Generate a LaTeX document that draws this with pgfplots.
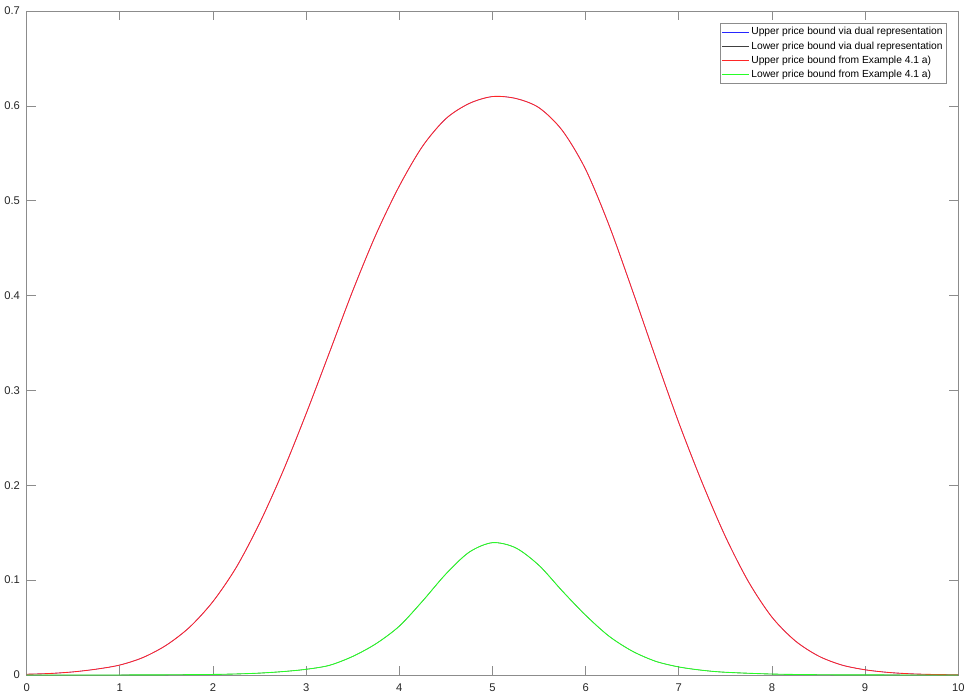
\documentclass[border=0pt]{standalone}
\usepackage{pgfplots}
\usepackage{pgfplotstable}
\pgfplotsset{compat=1.18}
\usepackage{fontspec}
\setmainfont{Liberation Sans}
\pgfplotstableread{
x y
0 0.0008
0.25 0.0016
0.5 0.0033
0.75 0.0062
1.0 0.0105
1.25 0.0185
1.5 0.0315
1.75 0.0505
2.0 0.0775
2.25 0.1135
2.5 0.160
2.75 0.2145
3.0 0.2755
3.25 0.340
3.5 0.405
3.75 0.4645
4.0 0.5155
4.25 0.5575
4.5 0.5865
4.75 0.6025
5.0 0.6098
5.25 0.6078
5.5 0.598
5.75 0.574
6.0 0.533
6.25 0.4745
6.5 0.406
6.75 0.335
7.0 0.266
7.25 0.203
7.5 0.146
7.75 0.098
8.0 0.061
8.25 0.036
8.5 0.020
8.75 0.0105
9.0 0.0055
9.25 0.0027
9.5 0.0012
9.75 0.0005
10 0.0002
}\upperdata
\pgfplotstableread{
x y
0 0.0
0.5 0.0
1.0 0.00005
1.5 0.0002
2.0 0.0006
2.25 0.0011
2.5 0.002
2.75 0.0036
3.0 0.006
3.25 0.0102
3.5 0.0196
3.75 0.033
4.0 0.0515
4.25 0.078
4.5 0.1065
4.75 0.1295
5.0 0.1395
5.25 0.134
5.5 0.1155
5.75 0.0885
6.0 0.063
6.25 0.041
6.5 0.0252
6.75 0.0145
7.0 0.0085
7.25 0.005
7.5 0.0029
8.0 0.001
8.5 0.0003
9 0.0001
10 0.0
}\lowerdata
\begin{document}
\begin{tikzpicture}
\path[use as bounding box] (-20pt,-16.5pt) rectangle (703.75pt,506.25pt);
\begin{axis}[
  scale only axis,
  width=698.7pt, height=498pt,
  xmin=0, xmax=10, ymin=0, ymax=0.7,
  xtick={0,1,...,10},
  ytick={0,0.1,0.2,0.3,0.4,0.5,0.6,0.7},
  /pgf/number format/assume math mode=true,
  tick align=inside,
  major tick length=6.75pt,
  axis line style={draw=black!45},
  tick style={draw=black!45, line width=0.5pt},
  every axis/.append style={line width=0.5pt},
  tick label style={font=\fontsize{8.4}{10}\selectfont, text=black!85},
  xticklabel style={yshift=-3pt},
  yticklabel style={xshift=-1.5pt},
  legend style={
    at={(0.9875,0.9815)}, anchor=north east,
    draw=black!45, line width=0.5pt,
    font=\fontsize{7.7}{9}\selectfont,
    inner sep=1pt,
    nodes={inner sep=1.8pt},
  },
  legend cell align=left,
  legend image code/.code={\draw[#1] (0pt,0pt) -- (20pt,0pt);},
]
\addplot[blue!85!white, line width=0.3pt, smooth] table[x=x,y=y] {\upperdata};
\addlegendentry{Upper price bound via dual representation}
\addplot[black!75, line width=0.3pt, smooth] table[x=x,y=y] {\lowerdata};
\addlegendentry{Lower price bound via dual representation}
\addplot[red!85!white, line width=0.65pt, smooth] table[x=x,y=y] {\upperdata};
\addlegendentry{Upper price bound from Example 4.1 a)}
\addplot[green!85!white, line width=0.65pt, smooth] table[x=x,y=y] {\lowerdata};
\addlegendentry{Lower price bound from Example 4.1 a)}
\end{axis}
\end{tikzpicture}
\end{document}
